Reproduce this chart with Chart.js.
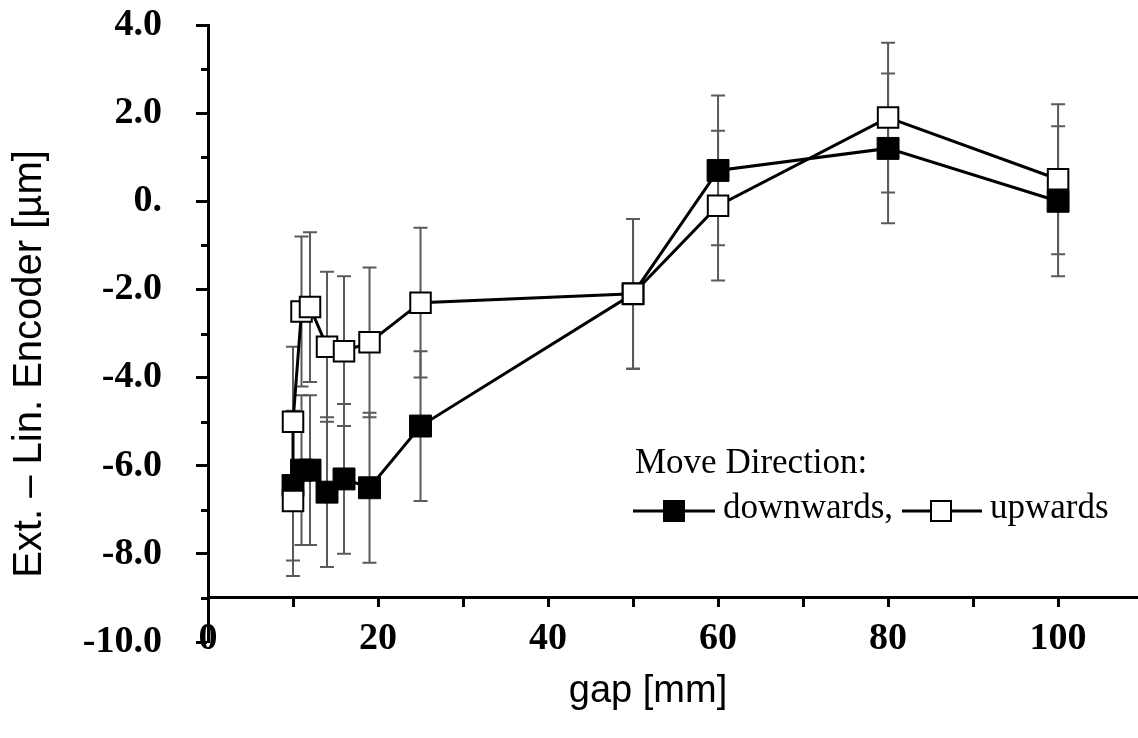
<!DOCTYPE html>
<html>
<head>
<meta charset="utf-8">
<script src="https://cdn.jsdelivr.net/npm/chart.js@4.4.1/dist/chart.umd.min.js"></script>
<style>
  html, body { margin: 0; padding: 0; background: #fff; }
</style>
</head>
<body>
<canvas id="chart" width="1138" height="738"></canvas>
<script>
// gap [mm] vs. deviation external minus linear encoder [µm]
const gapUp = [10, 10, 11, 12, 14, 16, 19, 25, 50, 60, 80, 100];
const upValues = [-6.8, -5.0, -2.5, -2.4, -3.3, -3.4, -3.2, -2.3, -2.1, -0.1, 1.9, 0.5];
const upErrors = [1.7, 1.7, 1.7, 1.7, 1.7, 1.7, 1.7, 1.7, 1.7, 1.7, 1.7, 1.7];

const gapDown = [10, 11, 12, 14, 16, 19, 25, 50, 60, 80, 100];
const downValues = [-6.45, -6.1, -6.1, -6.6, -6.3, -6.5, -5.1, -2.1, 0.7, 1.2, 0.0];
const downErrors = [1.7, 1.7, 1.7, 1.7, 1.7, 1.7, 1.7, 1.7, 1.7, 1.7, 1.7];

const xTickValues = [0, 10, 20, 30, 40, 50, 60, 70, 80, 90, 100];
const yTickValues = [4, 2, 0, -2, -4, -6, -8, -10];
const yTickLabels = ['4.0', '2.0', '0.', '-2.0', '-4.0', '-6.0', '-8.0', '-10.0'];

const toPoints = (xs, ys) => xs.map((x, i) => ({ x, y: ys[i] }));

const tickFont = { family: 'Liberation Serif', size: 38, weight: 'bold' };

// vertical error bars with caps, drawn underneath the markers
const errorBars = {
  id: 'errorBars',
  beforeDatasetsDraw(chart) {
    const { ctx, scales: { x, y } } = chart;
    const sets = [[gapDown, downValues, downErrors], [gapUp, upValues, upErrors]];
    ctx.save();
    ctx.strokeStyle = '#5a5a5a';
    ctx.lineWidth = 2;
    sets.forEach(([xs, vs, es]) => {
      xs.forEach((gx, i) => {
        const px = x.getPixelForValue(gx);
        const top = y.getPixelForValue(vs[i] + es[i]);
        const bot = y.getPixelForValue(vs[i] - es[i]);
        ctx.beginPath();
        ctx.moveTo(px, top);
        ctx.lineTo(px, bot);
        ctx.moveTo(px - 7, top);
        ctx.lineTo(px + 7, top);
        ctx.moveTo(px - 7, bot);
        ctx.lineTo(px + 7, bot);
        ctx.stroke();
      });
    });
    ctx.restore();
  }
};

// short unlabeled ticks on the odd y values
const minorTicks = {
  id: 'minorTicks',
  afterDraw(chart) {
    const { ctx, scales: { y } } = chart;
    ctx.save();
    ctx.strokeStyle = '#000';
    ctx.lineWidth = 3;
    y.ticks.forEach(t => {
      if (t.value % 2 === 0) return;
      const py = Math.round(y.getPixelForValue(t.value)) + 0.5;
      ctx.beginPath();
      ctx.moveTo(y.right - 7, py);
      ctx.lineTo(y.right, py);
      ctx.stroke();
    });
    ctx.restore();
  }
};

function drawSquare(ctx, cx, cy, filled) {
  ctx.beginPath();
  ctx.rect(cx - 10, cy - 10, 20, 20);
  ctx.fillStyle = filled ? '#000' : '#fff';
  ctx.fill();
  ctx.lineWidth = 2;
  ctx.strokeStyle = '#000';
  ctx.stroke();
}

// axis titles and the "Move Direction" key
const annotations = {
  id: 'annotations',
  afterDraw(chart) {
    const { ctx } = chart;
    ctx.save();
    ctx.fillStyle = '#000';
    ctx.textAlign = 'center';
    ctx.textBaseline = 'middle';
    ctx.font = '38px "Liberation Sans"';
    ctx.fillText('gap [mm]', 648, 692);
    ctx.save();
    ctx.font = '40px "Liberation Sans"';
    ctx.translate(30, 364);
    ctx.rotate(-Math.PI / 2);
    ctx.fillText('Ext. \u2013 Lin. Encoder [\u00b5m]', 0, 0);
    ctx.restore();

    ctx.textAlign = 'left';
    ctx.textBaseline = 'alphabetic';
    ctx.font = '35px "Liberation Serif"';
    ctx.fillText('Move Direction:', 635, 473);

    ctx.strokeStyle = '#000';
    ctx.lineWidth = 3;
    ctx.beginPath();
    ctx.moveTo(633, 511); ctx.lineTo(715, 511);
    ctx.moveTo(902, 511); ctx.lineTo(982, 511);
    ctx.stroke();
    drawSquare(ctx, 674, 511, true);
    drawSquare(ctx, 941, 511, false);
    ctx.fillStyle = '#000';
    ctx.fillText('downwards,', 723, 518);
    ctx.fillText('upwards', 990, 518);
    ctx.restore();
  }
};

new Chart(document.getElementById('chart'), {
  type: 'line',
  data: {
    datasets: [
      {
        label: 'upwards',
        data: toPoints(gapUp, upValues),
        order: 0,
        borderColor: '#000',
        borderWidth: 3,
        pointStyle: 'rect',
        pointRadius: 14.5,
        pointBorderWidth: 2,
        pointBackgroundColor: '#fff',
        pointBorderColor: '#000',
        tension: 0
      },
      {
        label: 'downwards',
        data: toPoints(gapDown, downValues),
        order: 1,
        borderColor: '#000',
        borderWidth: 3,
        pointStyle: 'rect',
        pointRadius: 15.5,
        pointBorderWidth: 1,
        pointBackgroundColor: '#000',
        pointBorderColor: '#000',
        tension: 0
      }
    ]
  },
  options: {
    responsive: false,
    animation: false,
    layout: { autoPadding: false, padding: { top: 25, right: 0, bottom: 96, left: 0 } },
    plugins: { legend: { display: false }, tooltip: { enabled: false } },
    scales: {
      x: {
        type: 'linear',
        position: { y: -9 },
        min: 0,
        max: 109.4,
        afterBuildTicks: axis => { axis.ticks = xTickValues.map(value => ({ value })); },
        afterFit: scale => { scale.paddingLeft = 0; scale.paddingRight = 0; },
        ticks: {
          autoSkip: false,
          maxRotation: 0,
          padding: 10,
          color: '#000',
          font: tickFont,
          callback: v => (v % 20 === 0 ? String(v) : '')
        },
        grid: { drawOnChartArea: false, drawTicks: true, tickLength: 8, tickWidth: 3, tickColor: '#000' },
        border: { display: true, width: 3, color: '#000' }
      },
      y: {
        type: 'linear',
        min: -10,
        max: 4,
        afterFit: scale => { scale.width = 208; scale.paddingTop = 0; scale.paddingBottom = 0; },
        ticks: {
          stepSize: 1,
          autoSkip: false,
          padding: 34,
          color: '#000',
          font: tickFont,
          callback: v => {
            const i = yTickValues.indexOf(v);
            return i >= 0 ? yTickLabels[i] : '';
          }
        },
        grid: {
          drawOnChartArea: false,
          drawTicks: true,
          tickLength: 12,
          tickWidth: 3,
          tickColor: c => (c.tick && c.tick.value % 2 !== 0 ? 'rgba(0,0,0,0)' : '#000')
        },
        border: { display: true, width: 3, color: '#000' }
      }
    }
  },
  plugins: [errorBars, minorTicks, annotations]
});
</script>
</body>
</html>
